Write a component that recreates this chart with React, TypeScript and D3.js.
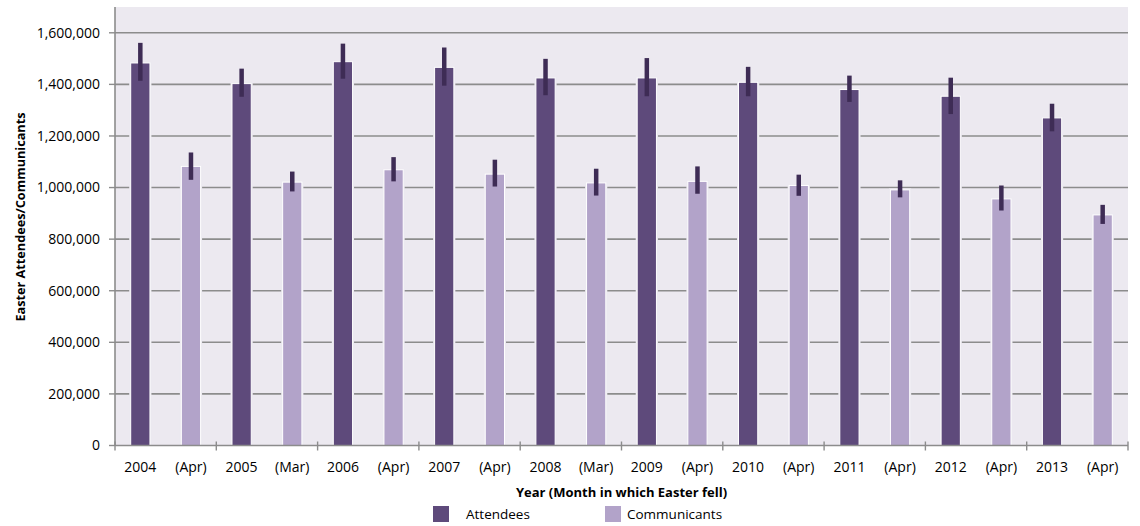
import React from "react";
import * as d3 from "d3";

const categories = ["2004", "(Apr)", "2005", "(Mar)", "2006", "(Apr)", "2007", "(Apr)", "2008", "(Mar)", "2009", "(Apr)", "2010", "(Apr)", "2011", "(Apr)", "2012", "(Apr)", "2013", "(Apr)"];
const series = ["Attendees", "Communicants", "Attendees", "Communicants", "Attendees", "Communicants", "Attendees", "Communicants", "Attendees", "Communicants", "Attendees", "Communicants", "Attendees", "Communicants", "Attendees", "Communicants", "Attendees", "Communicants", "Attendees", "Communicants"];
const values = [1483000, 1082000, 1403000, 1021000, 1488000, 1069000, 1466000, 1052000, 1425000, 1018000, 1425000, 1024000, 1408000, 1008000, 1380000, 991000, 1354000, 956000, 1270000, 894000];
const errHigh = [1561000, 1136000, 1461000, 1062000, 1558000, 1118000, 1543000, 1108000, 1499000, 1073000, 1502000, 1082000, 1468000, 1050000, 1434000, 1028000, 1426000, 1008000, 1325000, 933000];
const errLow = [1414000, 1030000, 1352000, 985000, 1422000, 1024000, 1395000, 1004000, 1358000, 969000, 1354000, 976000, 1354000, 968000, 1332000, 962000, 1285000, 911000, 1218000, 859000];
const yTicks = [0, 200000, 400000, 600000, 800000, 1000000, 1200000, 1400000, 1600000];
const legendItems = ["Attendees", "Communicants"];

const colors: Record<string, string> = { Attendees: "#5E4A7B", Communicants: "#B2A3C9" };
const errColor = "#3E2C55";
const bg = "#ECE9F0";
const font = "'Open Sans', sans-serif";

export default function App() {
  const W = 1140, H = 526;
  const left = 115, right = 1128, top = 7, bottom = 445.5;
  const idx = categories.map((_, i) => i);
  const x = d3.scaleBand<number>().domain(idx).range([left, right]).paddingInner(0).paddingOuter(0);
  const y = d3.scaleLinear().domain([0, 1700000]).range([bottom, top]);
  const bw = x.bandwidth() * 0.38;
  const fmt = d3.format(",");
  const boundaries = d3.range(0, categories.length + 1, 2).map((i) => left + i * x.bandwidth());

  return (
    <svg width={W} height={H} style={{ position: "absolute", left: 0, top: 0, fontFamily: font }}>
      <rect x={left} y={top} width={right - left} height={bottom - top} fill={bg} />
      {yTicks.filter((t) => t > 0).map((t) => (
        <line key={t} x1={left} x2={right} y1={y(t)} y2={y(t)} stroke="#8C8C8C" strokeWidth={1.6} />
      ))}
      {yTicks.map((t) => (
        <g key={"yt" + t}>
          <line x1={left - 6} x2={left} y1={y(t)} y2={y(t)} stroke="#8C8C8C" strokeWidth={1.4} />
          <text x={100} y={y(t)} dy="0.35em" textAnchor="end" fontSize={14} fill="#000">{fmt(t)}</text>
        </g>
      ))}
      {idx.map((i) => {
        const cx = (x(i) as number) + x.bandwidth() / 2;
        return (
          <g key={"b" + i}>
            <rect x={cx - bw / 2 - 1.5} y={y(values[i]) - 1.5} width={bw + 3} height={bottom - y(values[i]) + 1.5} fill={bg} />
            <rect x={cx - bw / 2} y={y(values[i])} width={bw} height={bottom - y(values[i])} fill={colors[series[i]]} stroke="#FFFFFF" strokeWidth={1} />
            <line x1={cx} x2={cx} y1={y(errHigh[i])} y2={y(errLow[i])} stroke={errColor} strokeWidth={4.5} />
          </g>
        );
      })}
      <line x1={left} x2={left} y1={top} y2={bottom} stroke="#8C8C8C" strokeWidth={1.6} />
      <line x1={left} x2={right} y1={bottom} y2={bottom} stroke="#8C8C8C" strokeWidth={1.6} />
      {boundaries.map((bx, k) => (
        <line key={"xt" + k} x1={bx} x2={bx} y1={bottom - 4} y2={bottom + 5} stroke="#8C8C8C" strokeWidth={1.4} />
      ))}
      {idx.map((i) => (
        <text key={"xl" + i} x={(x(i) as number) + x.bandwidth() / 2} y={467} dy="0.35em" textAnchor="middle" fontSize={14} fill="#000">{categories[i]}</text>
      ))}
      <text x={(left + right) / 2} y={492} dy="0.35em" textAnchor="middle" fontSize={13} fontWeight="bold" fill="#000">Year (Month in which Easter fell)</text>
      <text transform={`translate(21,217) rotate(-90)`} dy="0.35em" textAnchor="middle" fontSize={12.7} fontWeight="bold" fill="#000">Easter Attendees/Communicants</text>
      {legendItems.map((name, k) => {
        const lx = k === 0 ? 433 : 605;
        const tx = k === 0 ? 466 : 627;
        return (
          <g key={name}>
            <rect x={lx} y={506} width={16} height={16} fill={colors[name]} />
            <text x={tx} y={514} dy="0.35em" fontSize={13.5} fill="#000">{name}</text>
          </g>
        );
      })}
    </svg>
  );
}
